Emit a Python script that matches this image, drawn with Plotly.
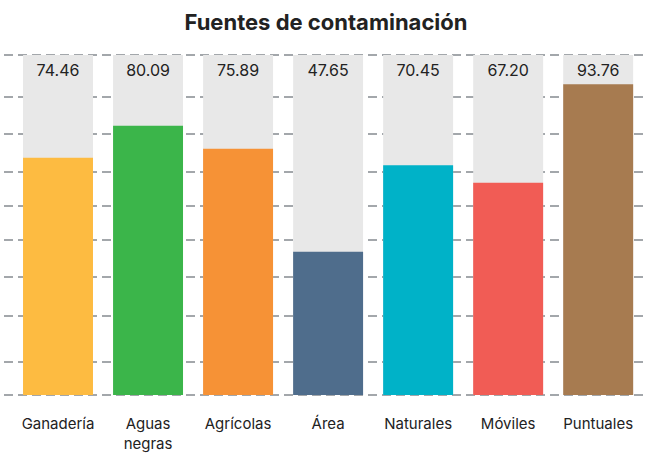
import plotly.graph_objects as go

categories = ["Ganadería", "Aguas<br>negras", "Agrícolas", "Área", "Naturales", "Móviles", "Puntuales"]
bar_values = [69.8, 79.2, 72.4, 42.1, 67.6, 62.4, 91.4]
label_values = [74.46, 80.09, 75.89, 47.65, 70.45, 67.20, 93.76]
background_values = [100, 100, 100, 100, 100, 100, 100]
colors = ["#fdbb41", "#3bb54a", "#f69236", "#4f6d8c", "#00b2c8", "#f15c55", "#a77b50"]
grid_ticks = [0, 9.7, 23.2, 34.7, 45.6, 55.6, 65.6, 76.8, 87.6, 100]

font_family = "Inter, 'Open Sans', sans-serif"

fig = go.Figure()
fig.add_trace(go.Bar(
    x=categories, y=background_values,
    marker=dict(color="#e8e8e8", line=dict(width=0)),
    hoverinfo="skip", showlegend=False,
))
fig.add_trace(go.Bar(
    x=categories, y=bar_values,
    marker=dict(color=colors, line=dict(width=0)),
    showlegend=False,
))
fig.add_trace(go.Scatter(
    x=categories, y=[95] * len(categories),
    mode="text",
    text=[f"{v:.2f}" for v in label_values],
    textfont=dict(family=font_family, size=16, color="#222222"),
    hoverinfo="skip", showlegend=False,
))

fig.update_layout(
    width=652, height=455,
    margin=dict(l=4, r=7, t=54, b=59, autoexpand=False),
    paper_bgcolor="white", plot_bgcolor="white",
    barmode="overlay", bargap=0.223,
    title=dict(text="<b>Fuentes de contaminación</b>", x=0.5, xanchor="center",
               y=0.952, yanchor="middle",
               font=dict(family=font_family, size=22, color="#222222")),
    xaxis=dict(range=[-0.6, 6.52], showgrid=False, zeroline=False, showline=False,
               ticks="", ticklabelstandoff=17, automargin=False,
               tickfont=dict(family=font_family, size=15, color="#222222")),
    yaxis=dict(range=[-0.3, 100.3], tickvals=grid_ticks, showticklabels=False,
               showgrid=True, gridcolor="#a3a7ab", gridwidth=2, griddash="9px,5px",
               zeroline=False, showline=False, ticks="", automargin=False),
)

fig.write_html("out.html",
               config={"displayModeBar": False},
               post_script="document.body.style.margin='0px';document.body.style.overflow='hidden';")
